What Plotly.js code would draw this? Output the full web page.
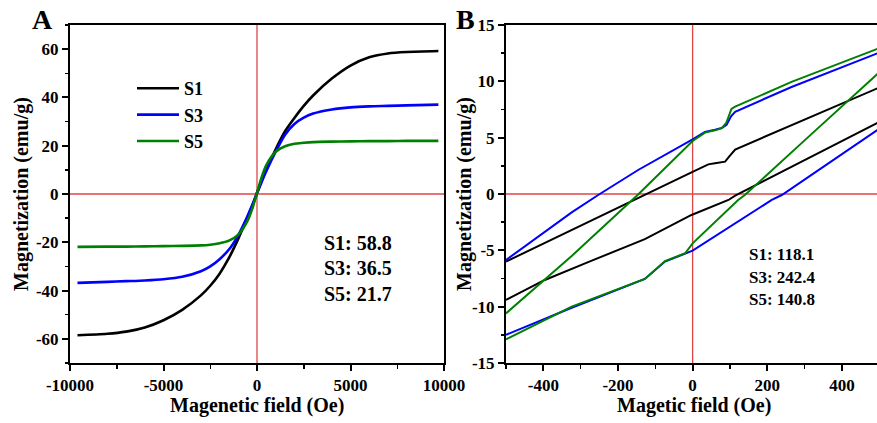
<!DOCTYPE html>
<html>
<head>
<meta charset="utf-8">
<script src="https://cdn.plot.ly/plotly-3.0.1.min.js"></script>
<style>html,body{margin:0;padding:0;background:#fff;}#chart{width:877px;height:423px;}</style>
</head>
<body>
<div id="chart"></div>
<script>
// ---------- Panel A data: M-H curves (field in Oe, magnetization in emu/g) ----------
const fieldA = [-9600,-8000,-7000,-6000,-5000,-4000,-3000,-2500,-2000,-1500,-1000,-500,-250,0,250,500,1000,1500,2000,2500,3000,4000,5000,6000,7000,8000,9700];
const magA_S1 = [-58.5,-57.9,-57.0,-55.3,-52.3,-48.0,-42.0,-38.0,-33.0,-26.5,-18.5,-9.5,-5.0,0.5,5.5,10.0,18.5,26.0,31.5,36.5,40.8,47.8,53.2,56.6,58.2,58.8,59.2];
const magA_S3 = [-36.8,-36.4,-36.1,-35.8,-35.3,-34.3,-32.0,-30.0,-27.0,-23.0,-17.0,-9.0,-4.5,0.3,5.0,9.5,17.5,24.5,29.0,31.6,33.3,35.0,35.9,36.3,36.5,36.7,37.0];
const magA_S5 = [-21.9,-21.8,-21.8,-21.7,-21.6,-21.5,-21.3,-21.0,-20.4,-19.3,-16.8,-11.0,-6.0,0.5,7.0,12.0,17.5,19.8,20.8,21.2,21.5,21.7,21.8,21.9,21.9,22.0,22.0];

// ---------- Panel B data: low-field loops (upper = descending branch, lower = ascending branch) ----------
const fieldB_S1_up  = [500,300,114,100,87,60,42,-3,-128,-324,-500];
const magB_S1_up    = [9.45,6.6,3.95,3.4,2.87,2.72,2.63,1.92,-0.09,-3.19,-6.0];
const fieldB_S1_low = [-500,-396,-280,-128,-3,96,114,300,435,500];
const magB_S1_low   = [-9.4,-7.63,-6.05,-4.0,-1.86,-0.53,-0.15,3.0,5.35,6.4];

const fieldB_S3_up  = [500,265,114,103,91,78,60,33,0,-146,-253,-324,-500];
const magB_S3_up    = [12.55,9.5,7.3,6.9,6.15,5.85,5.7,5.5,4.85,2.13,-0.09,-1.63,-5.86];
const fieldB_S3_low = [-500,-324,-128,-74,0,212,239,500];
const magB_S3_low   = [-12.5,-10.1,-7.54,-6.0,-5.03,-0.53,-0.09,5.8];

const fieldB_S5_up  = [500,265,114,104,90,78,60,33,0,-146,-324,-500];
const magB_S5_up    = [12.95,9.95,7.75,7.55,6.3,5.85,5.65,5.45,4.7,-0.05,-5.5,-10.6];
const fieldB_S5_low = [-500,-324,-128,-74,-20,0,122,140,300,500];
const magB_S5_low   = [-12.9,-10.0,-7.54,-5.95,-5.26,-4.38,-0.53,-0.09,4.76,10.8];

// ---------- names, colours, labels ----------
const sampleNames = ["S1","S3","S5"];
const sampleColors = ["#000000","#0000ff","#008000"];
const msLabels = ["S1: 58.8","S3: 36.5","S5: 21.7"];
const hcLabels = ["S1: 118.1","S3: 242.4","S5: 140.8"];

const tickValsAx = [-10000,-5000,0,5000,10000];
const tickTextAx = ["-10000","-5000","0","5000","10000"];
const minorAx = [-7500,-2500,2500,7500];
const tickValsAy = [-60,-40,-20,0,20,40,60];
const tickTextAy = ["-60","-40","-20","0","20","40","60"];
const minorAy = [-70,-50,-30,-10,10,30,50,70];
const tickValsBx = [-400,-200,0,200,400];
const tickTextBx = ["-400","-200","0","200","400"];
const minorBx = [-500,-300,-100,100,300];
const tickValsBy = [-15,-10,-5,0,5,10,15];
const tickTextBy = ["-15","-10","-5","0","5","10","15"];
const minorBy = [-12.5,-7.5,-2.5,2.5,7.5,12.5];

// ---------- build ----------
const FONT = "Liberation Serif, Times New Roman, serif";
const W = 877, H = 423;
const px = v => v / W;
const py = v => 1 - v / H;

const magA = [magA_S1, magA_S3, magA_S5];
const upX = [fieldB_S1_up, fieldB_S3_up, fieldB_S5_up];
const upY = [magB_S1_up, magB_S3_up, magB_S5_up];
const lowX = [fieldB_S1_low, fieldB_S3_low, fieldB_S5_low];
const lowY = [magB_S1_low, magB_S3_low, magB_S5_low];

const traces = [];
for (let i = 0; i < 3; i++) {
  traces.push({
    x: fieldA, y: magA[i], xaxis: "x", yaxis: "y", type: "scatter", mode: "lines",
    name: sampleNames[i], line: {color: sampleColors[i], width: 2.6, shape: "spline", smoothing: 0.8},
    showlegend: true, hoverinfo: "skip"
  });
}
for (let i = 0; i < 3; i++) {
  traces.push({x: upX[i], y: upY[i], xaxis: "x2", yaxis: "y2", type: "scatter", mode: "lines",
    name: sampleNames[i], line: {color: sampleColors[i], width: 2}, showlegend: false, hoverinfo: "skip"});
  traces.push({x: lowX[i], y: lowY[i], xaxis: "x2", yaxis: "y2", type: "scatter", mode: "lines",
    name: sampleNames[i], line: {color: sampleColors[i], width: 2}, showlegend: false, hoverinfo: "skip"});
}

const tickFont = {family: FONT, size: 17, color: "#000", weight: "bold"};
function axis(domain, range, tv, tt, minorVals, anchor) {
  return {
    domain: domain, range: range, anchor: anchor,
    tickmode: "array", tickvals: tv, ticktext: tt,
    ticks: "outside", ticklen: 6, tickwidth: 2, tickcolor: "#000",
    minor: {tickmode: "array", tickvals: minorVals, ticks: "outside", ticklen: 3.5, tickwidth: 1.5, tickcolor: "#000", showgrid: false},
    showline: true, linecolor: "#000", linewidth: 2, mirror: true,
    showgrid: false, zeroline: false, tickfont: tickFont, automargin: false, fixedrange: true
  };
}
const yDom = [py(363), py(25)];

const annFont = (s) => ({family: FONT, size: s, color: "#000", weight: "bold"});
const annotations = [
  {text: "A", x: px(42), y: py(20), xref: "paper", yref: "paper", showarrow: false, font: annFont(28), xanchor: "center", yanchor: "middle"},
  {text: "B", x: px(465), y: py(20), xref: "paper", yref: "paper", showarrow: false, font: annFont(28), xanchor: "center", yanchor: "middle"},
  {text: "Magenetic field (Oe)", x: px(257), y: py(405), xref: "paper", yref: "paper", showarrow: false, font: annFont(20), xanchor: "center", yanchor: "middle"},
  {text: "Magetic field (Oe)", x: px(694), y: py(405), xref: "paper", yref: "paper", showarrow: false, font: annFont(20), xanchor: "center", yanchor: "middle"},
  {text: "Magnetization (emu/g)", x: px(21), y: py(194), xref: "paper", yref: "paper", showarrow: false, font: annFont(20), textangle: -90, xanchor: "center", yanchor: "middle"},
  {text: "Magnetization (emu/g)", x: px(464), y: py(194), xref: "paper", yref: "paper", showarrow: false, font: annFont(20), textangle: -90, xanchor: "center", yanchor: "middle"}
];
const msY = [243, 268, 294];
const hcY = [254, 277, 299];
for (let i = 0; i < 3; i++) {
  annotations.push({text: msLabels[i], x: px(322), y: py(msY[i]), xref: "paper", yref: "paper", showarrow: false, font: annFont(20), xanchor: "left", yanchor: "middle"});
  annotations.push({text: hcLabels[i], x: px(747), y: py(hcY[i]), xref: "paper", yref: "paper", showarrow: false, font: annFont(17), xanchor: "left", yanchor: "middle"});
}

const red = "rgb(222,70,70)";
const shapes = [
  {type: "line", xref: "x", yref: "y domain", x0: 0, x1: 0, y0: 0, y1: 1, line: {color: red, width: 1.3}, layer: "below"},
  {type: "line", xref: "x domain", yref: "y", x0: 0, x1: 1, y0: 0, y1: 0, line: {color: red, width: 1.3}, layer: "below"},
  {type: "line", xref: "x2", yref: "y2 domain", x0: 0, x1: 0, y0: 0, y1: 1, line: {color: red, width: 1.3}, layer: "below"},
  {type: "line", xref: "x2 domain", yref: "y2", x0: 0, x1: 1, y0: 0, y1: 0, line: {color: red, width: 1.3}, layer: "below"}
];

const layout = {
  width: W, height: H,
  margin: {l: 0, r: 0, t: 0, b: 0, pad: 0},
  paper_bgcolor: "#fff", plot_bgcolor: "rgba(0,0,0,0)",
  font: {family: FONT, color: "#000"},
  showlegend: true,
  legend: {x: px(132), y: py(70), xanchor: "left", yanchor: "top", bgcolor: "rgba(0,0,0,0)",
    font: {family: FONT, size: 18, color: "#000", weight: "bold"}, itemwidth: 42, tracegroupgap: 0},
  xaxis: axis([px(70), px(444)], [-10000, 10000], tickValsAx, tickTextAx, minorAx, "y"),
  yaxis: axis(yDom, [-70, 70], tickValsAy, tickTextAy, minorAy, "x"),
  xaxis2: axis([px(506), 1], [-500, 494], tickValsBx, tickTextBx, minorBx, "y2"),
  yaxis2: axis(yDom, [-15, 15], tickValsBy, tickTextBy, minorBy, "x2"),
  shapes: shapes,
  annotations: annotations
};

Plotly.newPlot("chart", traces, layout, {staticPlot: true, displayModeBar: false});
</script>
</body>
</html>
